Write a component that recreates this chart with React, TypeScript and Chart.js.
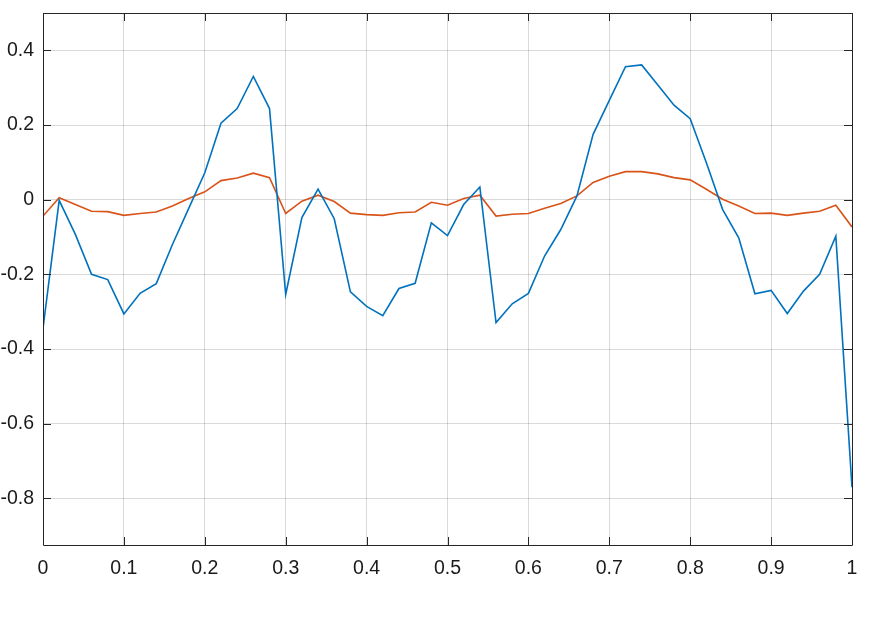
import React, { useEffect, useRef } from "react";
import { Chart, registerables } from "chart.js";

Chart.register(...registerables);

const xValues = [
  0, 0.02, 0.04, 0.06, 0.08, 0.1, 0.12, 0.14, 0.16, 0.18,
  0.2, 0.22, 0.24, 0.26, 0.28, 0.3, 0.32, 0.34, 0.36, 0.38,
  0.4, 0.42, 0.44, 0.46, 0.48, 0.5, 0.52, 0.54, 0.56, 0.58,
  0.6, 0.62, 0.64, 0.66, 0.68, 0.7, 0.72, 0.74, 0.76, 0.78,
  0.8, 0.82, 0.84, 0.86, 0.88, 0.9, 0.92, 0.94, 0.96, 0.98, 1,
];

const blueSeries = [
  -0.345, -0.002, -0.093, -0.2, -0.214, -0.306, -0.251, -0.225, -0.12, -0.024,
  0.072, 0.205, 0.244, 0.33, 0.244, -0.254, -0.048, 0.028, -0.051, -0.247,
  -0.286, -0.311, -0.238, -0.224, -0.062, -0.096, -0.013, 0.034, -0.329, -0.279,
  -0.251, -0.151, -0.08, 0.01, 0.175, 0.266, 0.356, 0.361, 0.307, 0.253,
  0.217, 0.099, -0.026, -0.102, -0.252, -0.243, -0.305, -0.245, -0.2, -0.098,
  -0.77,
];

const orangeSeries = [
  -0.044, 0.005, -0.013, -0.031, -0.032, -0.042, -0.037, -0.033, -0.017, 0.003,
  0.021, 0.051, 0.058, 0.071, 0.059, -0.037, -0.004, 0.012, -0.005, -0.036,
  -0.04, -0.042, -0.035, -0.033, -0.007, -0.015, 0.003, 0.012, -0.044, -0.039,
  -0.037, -0.023, -0.01, 0.01, 0.046, 0.063, 0.075, 0.075, 0.069, 0.059,
  0.053, 0.028, 0.001, -0.017, -0.037, -0.036, -0.042, -0.036, -0.031, -0.015,
  -0.073,
];

const xTicks = [0, 0.1, 0.2, 0.3, 0.4, 0.5, 0.6, 0.7, 0.8, 0.9, 1];
const yTicks = [-0.8, -0.6, -0.4, -0.2, 0, 0.2, 0.4];
const xMin = 0;
const xMax = 1;
const yMin = -0.925;
const yMax = 0.5;

const fmt = (v: number) => {
  const r = Math.round(v * 10) / 10;
  return String(r);
};

const boxPlugin = {
  id: "matlabBox",
  afterDatasetsDraw(chart: any) {
    const { ctx, chartArea } = chart;
    const { left, right, top, bottom } = chartArea;
    const xs = chart.scales.x;
    const ys = chart.scales.y;
    const tl = 8;
    ctx.save();
    ctx.strokeStyle = "#262626";
    ctx.lineWidth = 1;
    ctx.beginPath();
    ctx.rect(Math.round(left) + 0.5, Math.round(top) + 0.5, Math.round(right - left), Math.round(bottom - top));
    for (const v of xTicks) {
      const px = Math.round(xs.getPixelForValue(v)) + 0.5;
      ctx.moveTo(px, bottom);
      ctx.lineTo(px, bottom - tl);
      ctx.moveTo(px, top);
      ctx.lineTo(px, top + tl);
    }
    for (const v of yTicks) {
      const py = Math.round(ys.getPixelForValue(v)) + 0.5;
      ctx.moveTo(left, py);
      ctx.lineTo(left + tl, py);
      ctx.moveTo(right, py);
      ctx.lineTo(right - tl, py);
    }
    ctx.stroke();
    ctx.restore();
  },
};

export default function App() {
  const canvasRef = useRef<HTMLCanvasElement | null>(null);

  useEffect(() => {
    document.body.style.margin = "0";
    const canvas = canvasRef.current;
    if (!canvas) return;
    const toPoints = (ys: number[]) => xValues.map((x, i) => ({ x, y: ys[i] }));
    const font = { family: "'Liberation Sans', Arial, sans-serif", size: 19.5 };
    const chart = new Chart(canvas, {
      type: "line",
      data: {
        datasets: [
          {
            data: toPoints(blueSeries),
            borderColor: "#0072BD",
            borderWidth: 1.6,
            pointRadius: 0,
            tension: 0,
            fill: false,
          },
          {
            data: toPoints(orangeSeries),
            borderColor: "#D95319",
            borderWidth: 1.6,
            pointRadius: 0,
            tension: 0,
            fill: false,
          },
        ],
      },
      options: {
        animation: false,
        responsive: false,
        layout: { padding: { top: 13, right: 23, left: 0, bottom: 0 } },
        plugins: { legend: { display: false }, tooltip: { enabled: false } },
        scales: {
          x: {
            type: "linear",
            min: xMin,
            max: xMax,
            afterBuildTicks: (s: any) => {
              s.ticks = xTicks.map((v) => ({ value: v }));
            },
            afterFit: (s: any) => {
              s.height = 74;
              s.paddingLeft = 0;
              s.paddingRight = 0;
            },
            grid: { color: "rgba(0,0,0,0.15)", drawTicks: false, lineWidth: 1 },
            border: { display: false },
            ticks: {
              padding: 12,
              maxRotation: 0,
              autoSkip: false,
              color: "#1a1a1a",
              font,
              callback: (v: any) => fmt(Number(v)),
            },
          },
          y: {
            type: "linear",
            min: yMin,
            max: yMax,
            afterBuildTicks: (s: any) => {
              s.ticks = yTicks.map((v) => ({ value: v }));
            },
            afterFit: (s: any) => {
              s.width = 43;
              s.paddingTop = 0;
              s.paddingBottom = 0;
            },
            grid: { color: "rgba(0,0,0,0.15)", drawTicks: false, lineWidth: 1 },
            border: { display: false },
            ticks: {
              padding: 9,
              autoSkip: false,
              color: "#1a1a1a",
              font,
              callback: (v: any) => fmt(Number(v)),
            },
          },
        },
      },
      plugins: [boxPlugin],
    });
    return () => chart.destroy();
  }, []);

  return (
    <div style={{ width: 875, height: 619, background: "#fff" }}>
      <canvas ref={canvasRef} width={875} height={619} />
    </div>
  );
}
